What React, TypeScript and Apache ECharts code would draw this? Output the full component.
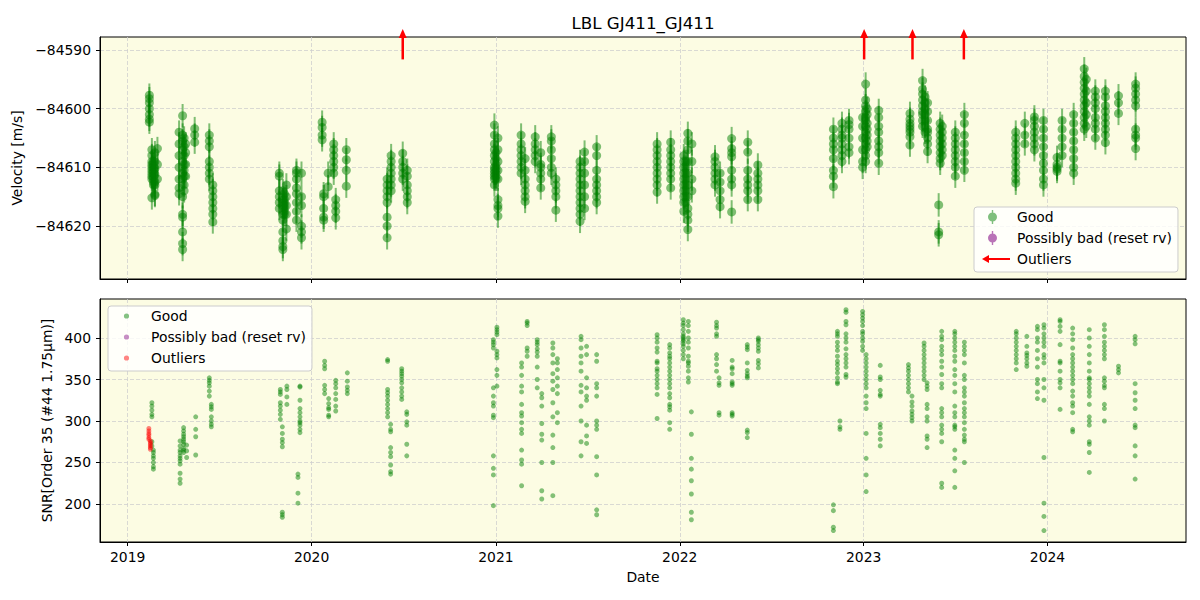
import React, { useEffect, useRef } from 'react';
import * as echarts from 'echarts';

type Group = [string, number[]];

const chartTitle = 'LBL GJ411_GJ411';
const yearTicks = ['2019-01-01', '2020-01-01', '2021-01-01', '2022-01-01', '2023-01-01', '2024-01-01'];
const X_MIN = '2018-11-07';
const X_MAX = '2024-10-02';
const rvTicks = [-84620, -84610, -84600, -84590];
const RV_MIN = -84629.03;
const RV_MAX = -84587.78;
const snrTicks = [200, 250, 300, 350, 400];
const SNR_MIN = 154.2;
const SNR_MAX = 447;
const RV_ERR = 2.0;
const legendLabels: Record<string, string> = {
  rvGood: 'Good', rvBad: 'Possibly bad (reset rv)', rvOut: 'Outliers',
  snrGood: 'Good', snrBad: 'Possibly bad (reset rv)', snrOut: 'Outliers',
};

// Outlier arrows (dates) drawn at the top of the velocity panel
const outlierArrowDates = ['2020-06-30', '2023-01-02', '2023-04-08', '2023-07-19'];
const ARROW_BASE = -84591.6;
const ARROW_TIP = -84586.4;

// Velocity [m/s] by night
const rv2019: Group[] = [
  ['2019-02-13', [-84597.7, -84598.3, -84599, -84600, -84601, -84601.8, -84602.3]],
  ['2019-02-18', [-84607, -84608, -84609, -84609.5, -84610, -84610.5, -84611, -84611.5, -84612, -84615.2]],
  ['2019-02-21', [-84609, -84609.5, -84610, -84610.5, -84611, -84611.5, -84612, -84612.5, -84613]],
  ['2019-02-24', [-84607.5, -84609, -84610.2, -84611.2, -84612.5, -84613, -84614.6, -84614.8]],
  ['2019-03-01', [-84606.8, -84609.5, -84612]],
  ['2019-04-13', [-84604, -84606, -84608, -84610, -84612, -84613.5, -84614.5]],
  ['2019-04-20', [-84601.2, -84604.5, -84605.5, -84607, -84609, -84611, -84612, -84615, -84618, -84618.5, -84621, -84623, -84624]],
  ['2019-04-23', [-84605, -84606.5, -84608, -84609.5, -84610.5, -84611.5, -84613, -84614]],
  ['2019-04-26', [-84606, -84607.5, -84609.5, -84611.5]],
  ['2019-05-14', [-84603.4, -84604.5, -84605.7]],
  ['2019-06-12', [-84604.5, -84605.5, -84606.5, -84609, -84610, -84611, -84612]],
  ['2019-06-19', [-84613, -84614, -84615, -84616, -84617, -84618, -84619.3]],
  ['2019-10-29', [-84611, -84611.5, -84614, -84615, -84616, -84617]],
  ['2019-11-05', [-84614, -84615.5, -84616.5, -84618, -84619, -84621, -84622.5, -84623.5, -84624]],
  ['2019-11-08', [-84614.5, -84615.5, -84616, -84616.5, -84617, -84617.5, -84618]],
  ['2019-11-12', [-84613, -84615, -84616.5, -84618, -84620.5]],
  ['2019-12-02', [-84610.5, -84611, -84612, -84613.5, -84614.5, -84616, -84617.5, -84619]],
  ['2019-12-12', [-84611, -84615, -84616.5, -84620, -84621, -84622]],
];
const rv2020: Group[] = [
  ['2020-01-22', [-84602.3, -84603.2, -84604.5, -84605.3]],
  ['2020-01-25', [-84614.5, -84615, -84617, -84618.5, -84619]],
  ['2020-02-03', [-84611, -84613.3]],
  ['2020-02-14', [-84606, -84607, -84608, -84609, -84610, -84611]],
  ['2020-02-18', [-84615.5, -84616.5, -84617.5, -84618.6]],
  ['2020-03-10', [-84607, -84608.7, -84610.5, -84613.2]],
  ['2020-05-30', [-84612, -84613, -84614, -84615, -84616, -84618.5, -84620, -84622]],
  ['2020-06-07', [-84608, -84609, -84610, -84611, -84612, -84613, -84614]],
  ['2020-06-30', [-84607.6, -84609, -84610, -84611, -84612]],
  ['2020-07-09', [-84610.5, -84611.5, -84613, -84614, -84615, -84616]],
  ['2020-12-29', [-84602.8, -84604.5, -84606, -84607, -84608, -84609, -84610, -84610.5, -84611, -84611.5, -84612, -84613]],
];
const rv2021: Group[] = [
  ['2021-01-01', [-84607.5, -84608.5, -84609.5, -84610, -84610.5, -84611, -84611.5, -84612]],
  ['2021-01-05', [-84605, -84607, -84609, -84610.5, -84612, -84615.5, -84616.5, -84617, -84618.3]],
  ['2021-02-20', [-84604.5, -84606, -84607, -84608, -84609, -84610, -84611]],
  ['2021-02-28', [-84612, -84613, -84614, -84615, -84615.8, -84608.5, -84610.5]],
  ['2021-03-20', [-84604.8, -84606, -84607, -84608, -84609]],
  ['2021-03-31', [-84607.5, -84609.5, -84610, -84611, -84612, -84613.5]],
  ['2021-04-21', [-84604.8, -84605.5, -84607, -84608.5, -84610, -84611]],
  ['2021-04-30', [-84612, -84613, -84614, -84615, -84617.3]],
  ['2021-06-17', [-84609, -84610, -84611, -84612, -84613, -84614, -84615, -84616, -84617, -84618, -84619.2]],
  ['2021-06-26', [-84607.4, -84609, -84611, -84613, -84615, -84617]],
  ['2021-07-20', [-84606.5, -84608, -84610.5, -84612, -84613, -84614, -84615, -84616]],
  ['2021-11-17', [-84606, -84607, -84608, -84609, -84610, -84611, -84612, -84613, -84614.2]],
  ['2021-12-14', [-84605.7, -84607, -84608, -84609, -84610, -84611, -84612, -84613.5]],
];
const rv2022: Group[] = [
  ['2022-01-09', [-84608, -84609, -84610, -84611, -84612, -84613, -84614, -84615, -84616, -84617.5]],
  ['2022-01-13', [-84609, -84610, -84611, -84612, -84613, -84614, -84615, -84616]],
  ['2022-01-17', [-84604.2, -84605.5, -84607, -84609, -84611, -84613, -84615, -84617, -84618, -84619, -84620.6]],
  ['2022-01-25', [-84606, -84609, -84612, -84614]],
  ['2022-03-12', [-84608.2, -84609, -84610, -84611, -84612, -84613]],
  ['2022-03-22', [-84611, -84612.5, -84614, -84615.5, -84616.7]],
  ['2022-04-14', [-84605.1, -84606.8, -84607.5, -84608.2, -84610.5, -84612, -84613, -84617.6]],
  ['2022-05-16', [-84605.7, -84607.4, -84610.5, -84612, -84613, -84614, -84615.5]],
  ['2022-06-05', [-84609.6, -84611, -84612, -84613, -84614, -84615.5]],
  ['2022-11-02', [-84603.5, -84605, -84606, -84607, -84608.5, -84610.5, -84611.5, -84613.3]],
  ['2022-11-19', [-84602.5, -84603.5, -84604.5, -84605, -84606, -84607, -84608, -84609]],
  ['2022-12-03', [-84602, -84602.7, -84603.5, -84605, -84606.5, -84607.5]],
  ['2022-12-30', [-84601.5, -84603, -84605, -84607, -84609, -84610]],
];
const rv2023: Group[] = [
  ['2023-01-05', [-84595.8, -84598.5, -84599.5, -84600.5, -84601.5, -84602, -84603, -84604, -84605, -84606, -84607, -84608, -84609]],
  ['2023-01-08', [-84600, -84601, -84602.5, -84603.5, -84604.5, -84605.5, -84606.5]],
  ['2023-01-31', [-84600.3, -84601.5, -84603, -84604, -84605.5, -84606.5, -84607.5, -84609.3]],
  ['2023-04-03', [-84600.8, -84601.8, -84602.5, -84603, -84603.5, -84604, -84604.8, -84606.2]],
  ['2023-04-28', [-84595.2, -84596.7, -84597.5, -84598.5, -84599.5, -84600.5, -84601, -84602, -84603]],
  ['2023-05-03', [-84598, -84599, -84600, -84601, -84602, -84603, -84604]],
  ['2023-05-08', [-84599, -84600.5, -84602, -84603.5, -84604, -84605, -84606, -84607.3]],
  ['2023-05-30', [-84616.4, -84621, -84621.5]],
  ['2023-06-02', [-84602.5, -84603.5, -84604.5, -84605.5, -84606.5, -84607.5, -84608.5, -84609.3]],
  ['2023-06-06', [-84603, -84604, -84605, -84606, -84607, -84608]],
  ['2023-07-02', [-84604, -84605, -84606, -84607, -84608, -84609, -84610, -84611.5]],
  ['2023-07-20', [-84601, -84602.5, -84604.5, -84606, -84607.5, -84609, -84610.5]],
  ['2023-10-30', [-84604, -84605, -84606, -84607, -84608, -84609, -84610, -84611, -84612, -84612.7]],
  ['2023-11-17', [-84602.5, -84604.5, -84606]],
  ['2023-12-06', [-84601.4, -84602, -84603, -84604, -84605, -84606, -84607]],
  ['2023-12-24', [-84602, -84603.5, -84605, -84606.5, -84608, -84609.3, -84610.5, -84612, -84613]],
];
const rv2024: Group[] = [
  ['2024-01-20', [-84608.3, -84609.5, -84610, -84610.3, -84610.7]],
  ['2024-01-30', [-84602, -84603.5, -84605, -84606.5, -84608]],
  ['2024-02-22', [-84601, -84602.5, -84604, -84605.5, -84607, -84608.5, -84610, -84611]],
  ['2024-03-14', [-84593.2, -84594.5, -84595.5, -84596.5, -84597.5, -84598.5, -84599.5, -84600.5, -84601.5, -84602.5, -84603.5]],
  ['2024-03-18', [-84595, -84597, -84599, -84601, -84603]],
  ['2024-04-05', [-84597, -84598, -84599, -84600, -84601.5, -84602.5, -84603.5, -84605]],
  ['2024-04-25', [-84597, -84598, -84599.5, -84600.5, -84601.5, -84602.5, -84603.5, -84604.5, -84605.8]],
  ['2024-05-21', [-84597.8, -84599, -84600.8]],
  ['2024-06-24', [-84595.8, -84596.5, -84597.5, -84598.5, -84599.5, -84603.5, -84604.5, -84605, -84606.8]],
];

// SNR by night
const snr2019: Group[] = [
  ['2019-02-18', [322, 318, 313, 308, 305, 275, 270]],
  ['2019-02-21', [265, 262, 258, 255, 250, 245, 242]],
  ['2019-04-15', [276, 270, 265, 262, 258, 255, 252, 248, 237, 230, 225]],
  ['2019-04-22', [292, 288, 284, 281, 278, 275, 272, 267, 265, 262]],
  ['2019-04-28', [271, 264, 256]],
  ['2019-05-16', [305, 290, 281, 259]],
  ['2019-06-12', [352, 349, 346, 342, 336, 330]],
  ['2019-06-16', [320, 317, 314, 305, 300, 296, 293]],
  ['2019-10-31', [338, 335, 332, 322, 318, 313, 308, 302]],
  ['2019-11-04', [293, 285, 278, 274, 269, 190, 187, 184]],
  ['2019-11-13', [342, 338, 329, 320]],
  ['2019-12-05', [236, 232, 213, 201]],
  ['2019-12-09', [342, 341, 325, 315, 310, 305, 300, 298, 295, 290, 286]],
];
const snr2020: Group[] = [
  ['2020-01-27', [372, 367, 363, 343, 338, 333]],
  ['2020-02-04', [327, 321, 316, 314, 307, 305]],
  ['2020-02-18', [349, 345, 340, 333, 326, 318, 312]],
  ['2020-03-12', [358, 348, 341, 337, 333]],
  ['2020-05-31', [374, 372, 338, 334, 330, 325, 320, 315, 310, 305]],
  ['2020-06-06', [296, 290, 287, 268, 262, 257, 247, 239, 236]],
  ['2020-06-28', [363, 360, 357, 354, 350, 346, 340, 335, 330, 326]],
  ['2020-07-08', [311, 308, 299, 295, 272, 258]],
  ['2020-12-27', [398, 395, 392, 388, 340, 330, 322, 318, 307, 304, 258, 243, 235, 198]],
];
const snr2021: Group[] = [
  ['2021-01-03', [413, 410, 407, 404, 384, 380, 376, 362, 355, 342]],
  ['2021-02-21', [370, 365, 355, 342, 335, 320, 310, 306, 298, 290, 285, 265, 253, 248, 222]],
  ['2021-03-04', [420, 418, 415, 388, 384, 378]],
  ['2021-03-24', [398, 395, 392, 387, 383, 378, 365, 350, 340]],
  ['2021-04-02', [333, 328, 318, 297, 284, 277, 250, 216, 206]],
  ['2021-04-24', [394, 388, 380, 370, 357, 348, 338, 322, 305, 283, 268, 250, 210]],
  ['2021-05-03', [375, 370, 362, 352, 342, 333, 310, 298]],
  ['2021-06-19', [402, 398, 388, 378, 370, 360, 343, 335, 318, 300, 275, 258]],
  ['2021-06-30', [390, 380, 352, 340, 330, 325, 295, 282, 273]],
  ['2021-07-20', [380, 372, 345, 340, 330, 300, 295, 290, 257, 235, 193, 187]],
  ['2021-11-17', [404, 400, 395, 388, 383, 372, 370, 363, 360, 355, 350, 345, 340, 332, 303]],
  ['2021-12-12', [392, 388, 382, 378, 375, 370, 365, 360, 355, 350, 345, 340, 333, 328, 320, 317, 313, 298, 290]],
];
const snr2022: Group[] = [
  ['2022-01-08', [422, 418, 415, 410, 405, 402, 400, 398, 396, 393, 390, 385, 380, 375]],
  ['2022-01-18', [420, 415, 408, 400, 395, 388, 378, 372, 370, 366, 360, 352, 347]],
  ['2022-01-24', [311, 284, 255, 242, 228, 212, 190, 181]],
  ['2022-03-15', [419, 415, 412, 405, 402, 380, 375, 368, 360]],
  ['2022-03-20', [352, 346, 343, 310, 307]],
  ['2022-04-15', [373, 365, 363, 357, 347, 345, 343, 310, 308, 306]],
  ['2022-05-15', [392, 389, 386, 370, 361, 357, 354, 352, 289, 286, 280]],
  ['2022-06-06', [400, 398, 396, 392, 388, 384, 373, 369, 364]],
  ['2022-11-02', [199, 192, 172, 168]],
  ['2022-11-10', [408, 405, 402, 395, 390, 385, 378, 372, 368, 363, 358, 352, 347, 345]],
  ['2022-11-15', [300, 293, 290]],
  ['2022-11-27', [434, 431, 420, 416, 405, 400, 395, 387, 380, 375, 370, 365, 356, 353]],
  ['2022-12-30', [432, 428, 424, 420, 415, 408, 405, 400, 396, 390, 385]],
];
const snr2023: Group[] = [
  ['2023-01-06', [380, 375, 370, 365, 360, 355, 350, 345, 340, 330, 322, 315, 285, 255, 235, 215]],
  ['2023-02-03', [367, 353, 350, 337, 332, 330, 296, 292, 285, 278, 270]],
  ['2023-03-31', [368, 364, 360, 355, 350, 345, 340, 335]],
  ['2023-04-07', [330, 323, 318, 312, 308, 304, 300]],
  ['2023-05-01', [394, 390, 385, 380, 375, 370, 365, 360, 355, 350]],
  ['2023-05-07', [346, 342, 338, 320, 315, 305, 300, 282, 278, 268]],
  ['2023-06-05', [408, 402, 398, 390, 385, 380, 372, 365, 356, 345, 340, 315, 310, 305, 295, 290, 285, 275, 225, 220]],
  ['2023-07-01', [408, 405, 400, 395, 390, 385, 378, 372, 362, 355, 345, 335, 318, 310, 305, 295, 293, 290, 265, 255, 240, 220]],
  ['2023-07-20', [395, 390, 385, 380, 370, 355, 350, 340, 335, 330, 322, 315, 310, 305, 298, 290, 283, 278, 275, 250]],
  ['2023-10-31', [408, 405, 400, 395, 390, 385, 380, 375, 370, 362]],
  ['2023-11-21', [402, 390, 382, 379, 375, 370, 366]],
  ['2023-12-12', [414, 410, 400, 395, 385, 375, 365, 350, 345, 335, 327]],
  ['2023-12-25', [416, 412, 405, 400, 395, 390, 380, 376, 370, 350, 340, 325, 256, 201, 185, 168]],
];
const snr2024: Group[] = [
  ['2024-01-26', [422, 420, 414, 408, 392, 372, 370, 360, 350, 346, 340, 314]],
  ['2024-02-20', [412, 405, 398, 388, 380, 375, 370, 365, 360, 355, 350, 345, 336, 330, 322, 318, 310, 290, 287]],
  ['2024-03-24', [410, 400, 390, 380, 370, 360, 352, 350, 345, 340, 335, 330, 320, 305, 300, 295, 275, 272, 262, 238]],
  ['2024-04-23', [416, 410, 402, 395, 390, 385, 380, 375, 352, 348, 343, 340, 320, 315, 300]],
  ['2024-05-21', [366, 362, 358]],
  ['2024-06-23', [402, 398, 393, 345, 334, 325, 315, 295, 292, 270, 258, 230]],
];
// SNR points flagged as outliers (red)
const snrOutliers: Group[] = [
  ['2019-02-12', [291, 288, 285, 283, 280, 278]],
  ['2019-02-15', [276, 274, 272, 270, 268, 266]],
];

const ts = (d: string) => Date.parse(d + 'T00:00:00Z');
const flatten = (groups: Group[]) => groups.flatMap(([d, vs]) => vs.map((v) => [ts(d), v]));

const anchor = 'M0,0h0.01v0.01h-0.01z M32.99,13.99h0.01v0.01h-0.01z ';
const iconErr = 'path://' + anchor + 'M12.8,0h1.4v14h-1.4z M9,7a4.5,4.5 0 1,1 9,0a4.5,4.5 0 1,1 -9,0z';
const iconArrow = 'path://' + anchor + 'M3,7L10,3L10,11Z M9,6H31V8H9Z';
const iconDot = 'path://' + anchor + 'M10.9,7a2.6,2.6 0 1,1 5.2,0a2.6,2.6 0 1,1 -5.2,0z';

const FONT = 'DejaVu Sans';
const FS = 13.9;
const GREEN_RV = 'rgba(0,128,0,0.5)';
const GREEN_SNR = 'rgba(0,128,0,0.6)';
const PURPLE = 'rgba(128,0,128,0.55)';
const RED = 'rgba(255,0,0,0.6)';

export default function App() {
  const ref = useRef<HTMLDivElement>(null);
  useEffect(() => {
    if (!ref.current) return;
    const chart = echarts.init(ref.current, undefined, { renderer: 'svg' });
    const rvPoints = flatten([...rv2019, ...rv2020, ...rv2021, ...rv2022, ...rv2023, ...rv2024]).map((p) => [p[0], p[1], RV_ERR]);
    const snrPoints = flatten([...snr2019, ...snr2020, ...snr2021, ...snr2022, ...snr2023, ...snr2024]);
    const snrOut = flatten(snrOutliers);
    const yearTs = yearTicks.map(ts);
    const gridLine = { show: true, lineStyle: { color: '#cfcfcf', width: 0.8, type: [4, 2] as any } };
    const axisBlack = { show: true, lineStyle: { color: '#000', width: 1 } };
    const tickBlack = { show: true, inside: false, length: 4, lineStyle: { color: '#000', width: 1 } };
    const labelStyle = { color: '#000', fontSize: FS, fontFamily: FONT };

    const legendBase = {
      orient: 'vertical' as const,
      itemWidth: 33,
      itemHeight: 14,
      itemGap: 7,
      padding: [3, 6, 6, 5],
      backgroundColor: 'rgba(255,255,255,0.8)',
      borderColor: '#cccccc',
      borderWidth: 1,
      borderRadius: 3,
      selectedMode: false,
      textStyle: { fontSize: FS, color: '#000', fontFamily: FONT, lineHeight: 14 },
      formatter: (n: string) => legendLabels[n] ?? n,
    };

    const errRender = (color: string) => (params: any, api: any) => {
      const x = api.value(0);
      const y = api.value(1);
      const e = api.value(2);
      const p = api.coord([x, y]);
      const hi = api.coord([x, y + e]);
      const lo = api.coord([x, y - e]);
      return {
        type: 'group',
        children: [
          { type: 'line', shape: { x1: p[0], y1: hi[1], x2: p[0], y2: lo[1] }, style: { stroke: color, lineWidth: 2 } },
          { type: 'circle', shape: { cx: p[0], cy: p[1], r: 4.5 }, style: { fill: color } },
        ],
      };
    };

    const xAxisCommon = {
      type: 'value', min: ts(X_MIN), max: ts(X_MAX),
      axisLine: axisBlack, axisTick: { ...tickBlack, customValues: yearTs },
      splitLine: gridLine,
    };

    chart.setOption({
      animation: false,
      textStyle: { fontFamily: FONT },
      graphic: [
        {
          type: 'text', x: 643, y: 23,
          style: { text: chartTitle, fontSize: 16.7, fontFamily: FONT, fill: '#000', align: 'center', verticalAlign: 'middle' },
        },
      ],
      grid: [
        { left: 100, top: 37, width: 1086, height: 242, show: true, backgroundColor: '#fcfce3', borderColor: '#000', borderWidth: 1 },
        { left: 100, top: 299, width: 1086, height: 243, show: true, backgroundColor: '#fcfce3', borderColor: '#000', borderWidth: 1 },
      ],
      xAxis: [
        {
          ...xAxisCommon, gridIndex: 0,
          axisLabel: { show: false, customValues: yearTs },
        },
        {
          ...xAxisCommon, gridIndex: 1,
          name: 'Date', nameLocation: 'middle', nameGap: 28, nameTextStyle: labelStyle,
          axisLabel: { ...labelStyle, margin: 8, customValues: yearTs, formatter: (v: number) => String(new Date(v).getUTCFullYear()) },
        },
      ],
      yAxis: [
        {
          type: 'value', gridIndex: 0, min: RV_MIN, max: RV_MAX,
          name: 'Velocity [m/s]', nameLocation: 'middle', nameGap: 72, nameTextStyle: labelStyle,
          axisLine: axisBlack, axisTick: { ...tickBlack, customValues: rvTicks },
          axisLabel: { ...labelStyle, margin: 9, customValues: rvTicks, formatter: (v: number) => (v < 0 ? '\u2212' : '') + Math.abs(v) },
          splitLine: gridLine,
        },
        {
          type: 'value', gridIndex: 1, min: SNR_MIN, max: SNR_MAX,
          name: 'SNR[Order 35 (#44 1.75\u03bcm)]', nameLocation: 'middle', nameGap: 45, nameTextStyle: labelStyle,
          axisLine: axisBlack, axisTick: { ...tickBlack, customValues: snrTicks },
          axisLabel: { ...labelStyle, margin: 9, customValues: snrTicks },
          splitLine: gridLine,
        },
      ],
      legend: [
        {
          ...legendBase, left: 974, top: 207,
          data: [
            { name: 'rvGood', icon: iconErr, itemStyle: { color: GREEN_RV } },
            { name: 'rvBad', icon: iconErr, itemStyle: { color: PURPLE } },
            { name: 'rvOut', icon: iconArrow, itemStyle: { color: '#ff0000' } },
          ],
        },
        {
          ...legendBase, left: 108, top: 306,
          data: [
            { name: 'snrGood', icon: iconDot, itemStyle: { color: GREEN_SNR } },
            { name: 'snrBad', icon: iconDot, itemStyle: { color: PURPLE } },
            { name: 'snrOut', icon: iconDot, itemStyle: { color: RED } },
          ],
        },
      ],
      series: [
        {
          type: 'custom', name: 'rvGood', xAxisIndex: 0, yAxisIndex: 0,
          data: rvPoints, encode: { x: 0, y: 1 }, itemStyle: { color: GREEN_RV },
          renderItem: errRender(GREEN_RV), silent: true,
        },
        {
          type: 'custom', name: 'rvBad', xAxisIndex: 0, yAxisIndex: 0,
          data: [], encode: { x: 0, y: 1 }, itemStyle: { color: PURPLE },
          renderItem: errRender(PURPLE), silent: true,
        },
        {
          type: 'custom', name: 'rvOut', xAxisIndex: 0, yAxisIndex: 0, clip: false,
          data: outlierArrowDates.map((d) => [ts(d), ARROW_BASE]), encode: { x: 0, y: 1 }, itemStyle: { color: '#ff0000' }, silent: true,
          renderItem: (params: any, api: any) => {
            const x = api.value(0);
            const b = api.coord([x, ARROW_BASE]);
            const t = api.coord([x, ARROW_TIP]);
            return {
              type: 'group',
              children: [
                { type: 'line', shape: { x1: b[0], y1: b[1], x2: t[0], y2: t[1] + 8 }, style: { stroke: '#ff0000', lineWidth: 2.5 } },
                { type: 'polygon', shape: { points: [[t[0] - 4, t[1] + 9], [t[0] + 4, t[1] + 9], [t[0], t[1]]] }, style: { fill: '#ff0000' } },
              ],
            };
          },
        },
        {
          type: 'scatter', name: 'snrGood', xAxisIndex: 1, yAxisIndex: 1,
          data: snrPoints, symbolSize: 5, itemStyle: { color: GREEN_SNR }, silent: true,
        },
        {
          type: 'scatter', name: 'snrBad', xAxisIndex: 1, yAxisIndex: 1,
          data: [], symbolSize: 5, itemStyle: { color: PURPLE }, silent: true,
        },
        {
          type: 'scatter', name: 'snrOut', xAxisIndex: 1, yAxisIndex: 1,
          data: snrOut, symbolSize: 5, itemStyle: { color: RED }, silent: true,
        },
      ],
    });
    return () => chart.dispose();
  }, []);
  return <div ref={ref} style={{ position: 'fixed', left: 0, top: 0, width: 1200, height: 600, background: '#fff' }} />;
}
